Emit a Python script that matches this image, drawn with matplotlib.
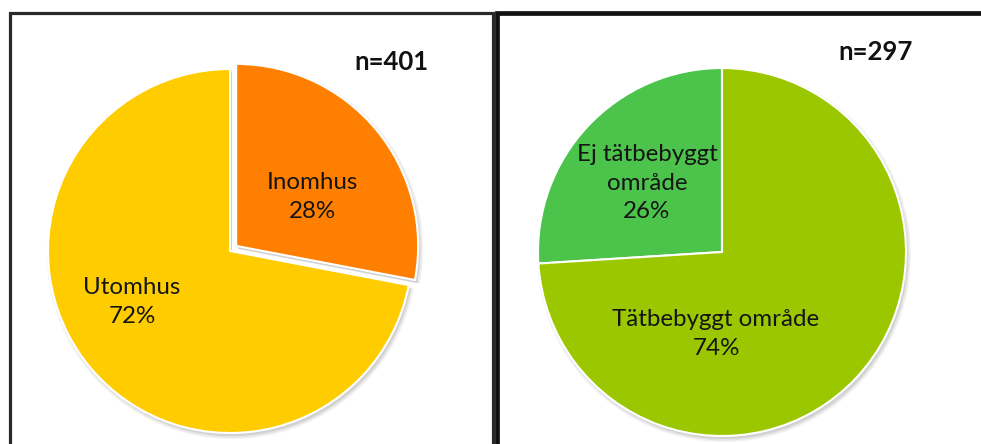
import matplotlib.pyplot as plt
from matplotlib.patches import Rectangle

W, H = 981, 444

# left pie: inne/ute
plats = ["Inomhus", "Utomhus"]
plats_andel = [28, 72]
plats_farger = ["#ff8000", "#ffcc00"]
n_vanster = 401

# right pie: område
omrade = ["Ej tätbebyggt\nområde", "Tätbebyggt område"]
omrade_andel = [26, 74]
omrade_farger = ["#4cc44c", "#9bc700"]
n_hoger = 297

plt.rcParams['font.family'] = ['Lato', 'DejaVu Sans']


def py(y):
    # pixel row (from top) -> data y
    return H - y


def rita_paj(ax, andel, farger, center, r, explode, counterclock):
    cx, cy = center
    # soft shadow
    for i, a in enumerate([0.10, 0.12, 0.18]):
        ax.pie(andel, colors=["#808080"] * len(andel), startangle=90,
               counterclock=counterclock, explode=explode,
               center=(cx + 2, py(cy) - 3), radius=r + 3 - i * 1.5,
               wedgeprops=dict(linewidth=0, alpha=a), frame=True)
    ax.pie(andel, colors=farger, startangle=90, counterclock=counterclock,
           explode=explode, center=(cx, py(cy)), radius=r,
           wedgeprops=dict(edgecolor="white", linewidth=1.5), frame=True)


fig = plt.figure(figsize=(W / 100, H / 100), dpi=100)
ax = fig.add_axes([0, 0, 1, 1])

# explode is in data units (pixels) here
rita_paj(ax, plats_andel, plats_farger, (230, 251), 182, [8, 0], False)
rita_paj(ax, omrade_andel, omrade_farger, (722, 252), 184, [0, 0], True)

# panel borders
ax.add_patch(Rectangle((9.5, py(470)), 483.5, 470 - 13.5, fill=False,
                       edgecolor="#2a2a2a", linewidth=2.3, zorder=5))
ax.add_patch(Rectangle((497, py(470)), 500, 470 - 13.5, fill=False,
                       edgecolor="#111111", linewidth=3.4, zorder=5))

txt = dict(ha="center", va="center", color="#151515", fontsize=17.4,
           linespacing=1.45)
ax.text(312, py(197), f"{plats[0]}\n{plats_andel[0]}%", **txt)
ax.text(132, py(302), f"{plats[1]}\n{plats_andel[1]}%", **txt)
ax.text(647, py(183), f"{omrade[0]}\n{omrade_andel[0]}%", **txt)
ax.text(716, py(334), f"{omrade[1]}\n{omrade_andel[1]}%", **txt)

ax.text(391, py(62), f"n={n_vanster}", ha="center", va="center",
        fontsize=18.5, fontweight="bold", color="#111111")
ax.text(876, py(52), f"n={n_hoger}", ha="center", va="center",
        fontsize=18.5, fontweight="bold", color="#111111")

ax.set_xlim(0, W)
ax.set_ylim(0, H)
ax.set_aspect("auto")
ax.axis("off")

fig.savefig("out.png", dpi=100)
